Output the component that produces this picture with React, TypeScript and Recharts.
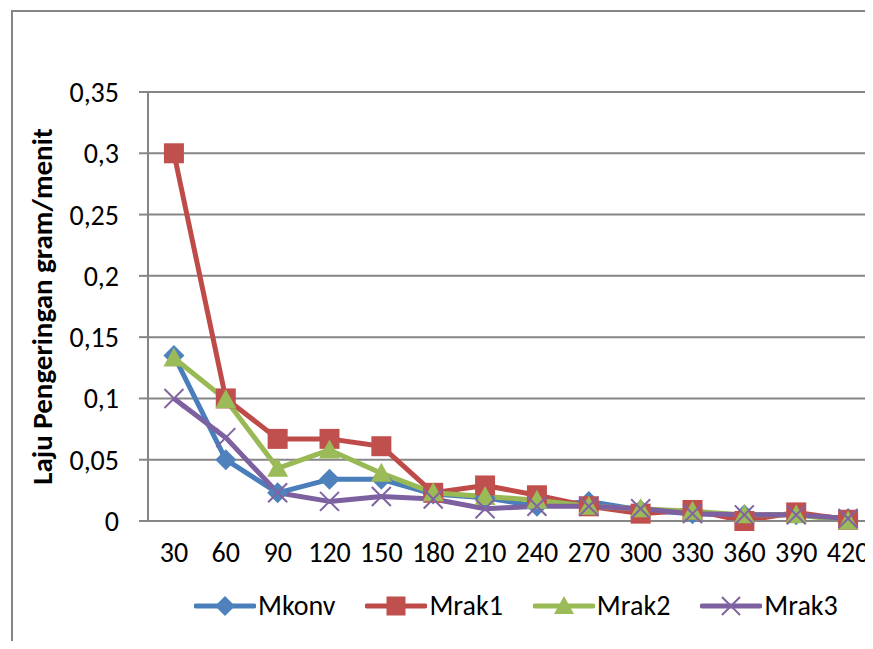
import React from 'react';
import { LineChart, Line, XAxis, YAxis, CartesianGrid, Legend } from 'recharts';

const categories = ['30', '60', '90', '120', '150', '180', '210', '240', '270', '300', '330', '360', '390', '420'];
const mkonv = [0.135, 0.05, 0.023, 0.034, 0.034, 0.022, 0.019, 0.012, 0.016, 0.009, 0.006, 0.005, 0.005, 0.002];
const mrak1 = [0.3, 0.1, 0.067, 0.067, 0.061, 0.023, 0.029, 0.021, 0.012, 0.006, 0.009, 0.0, 0.007, 0.001];
const mrak2 = [0.133, 0.099, 0.043, 0.058, 0.039, 0.023, 0.02, 0.017, 0.012, 0.01, 0.008, 0.005, 0.005, 0.0];
const mrak3 = [0.1, 0.068, 0.023, 0.016, 0.02, 0.018, 0.01, 0.012, 0.012, 0.01, 0.006, 0.005, 0.005, 0.002];
const yTicks = [0, 0.05, 0.1, 0.15, 0.2, 0.25, 0.3, 0.35];
const yTitle = 'Laju Pengeringan gram/menit';

const data = categories.map((c, i) => ({ x: c, Mkonv: mkonv[i], Mrak1: mrak1[i], Mrak2: mrak2[i], Mrak3: mrak3[i] }));

const FONT = 'Carlito, Calibri, Lato, sans-serif';
const FS = 28;
const GRAY = '#868686';
const COLORS = { Mkonv: '#4A7EBB', Mrak1: '#BE4B48', Mrak2: '#98B954', Mrak3: '#7D60A0' };
const FILLS = { Mkonv: '#4F81BD', Mrak1: '#C0504D', Mrak2: '#9BBB59', Mrak3: '#8064A2' };

const marker = (name: string, cx: number, cy: number, s = 1) => {
  if (cx == null || cy == null || isNaN(cx) || isNaN(cy)) return null;
  const r = 10.5 * s;
  if (name === 'Mkonv')
    return <path d={`M${cx},${cy - r}L${cx + r},${cy}L${cx},${cy + r}L${cx - r},${cy}Z`} fill={FILLS.Mkonv} />;
  if (name === 'Mrak1')
    return <rect x={cx - 10 * s} y={cy - 10 * s} width={20 * s} height={20 * s} fill={FILLS.Mrak1} />;
  if (name === 'Mrak2')
    return <path d={`M${cx},${cy - r}L${cx + r},${cy + 8.5 * s}L${cx - r},${cy + 8.5 * s}Z`} fill={FILLS.Mrak2} />;
  const q = 9.5 * s;
  return (
    <g stroke={FILLS.Mrak3} strokeWidth={2}>
      <line x1={cx - q} y1={cy - q} x2={cx + q} y2={cy + q} />
      <line x1={cx - q} y1={cy + q} x2={cx + q} y2={cy - q} />
    </g>
  );
};

const makeDot = (name: string) => (props: any) => (
  <g key={`${name}-${props.index}`}>{marker(name, props.cx, props.cy)}</g>
);

const LegendContent = (props: any) => {
  const payload = props.payload || [];
  return (
    <div style={{ display: 'flex', alignItems: 'center', fontFamily: FONT, fontSize: FS, color: '#000', whiteSpace: 'nowrap', lineHeight: '30px' }}>
      {payload.map((p: any) => (
        <div key={p.value} style={{ display: 'flex', alignItems: 'center', marginRight: 30 }}>
          <svg width={62} height={24} style={{ marginRight: 2 }}>
            <line x1={2} y1={12} x2={60} y2={12} stroke={COLORS[p.value as keyof typeof COLORS]} strokeWidth={5} strokeLinecap="round" />
            {marker(p.value, 31, 12, 0.95)}
          </svg>
          <span>{p.value}</span>
        </div>
      ))}
    </div>
  );
};

export default function App() {
  const series = ['Mkonv', 'Mrak1', 'Mrak2', 'Mrak3'] as const;
  return (
    <div style={{ position: 'relative', width: 873, height: 649, margin: -8, overflow: 'hidden', background: '#fff', fontFamily: FONT }}>
      <div style={{ position: 'absolute', left: 11, top: 10, width: 1000, height: 1000, border: `2px solid ${GRAY}`, boxSizing: 'border-box' }} />
      <div style={{ position: 'absolute', left: 0, top: 0 }}>
        <LineChart width={900} height={649} data={data} margin={{ top: 92, right: 26, bottom: 88, left: 0 }}>
          <CartesianGrid vertical={false} stroke={GRAY} strokeWidth={2} />
          <XAxis
            dataKey="x"
            scale="band"
            interval={0}
            tickLine={false}
            tickSize={0}
            tickMargin={21}
            height={40}
            axisLine={{ stroke: GRAY, strokeWidth: 2 }}
            tick={{ fontSize: FS, fill: '#000', fontFamily: FONT }}
          />
          <YAxis
            domain={[0, 0.35]}
            ticks={yTicks}
            interval={0}
            width={148}
            tickSize={9}
            tickMargin={20}
            tickFormatter={(v: number) => String(v).replace('.', ',')}
            axisLine={{ stroke: GRAY, strokeWidth: 2 }}
            tickLine={{ stroke: GRAY, strokeWidth: 2 }}
            tick={{ fontSize: FS, fill: '#000', fontFamily: FONT }}
            label={{ value: yTitle, angle: -90, position: 'center', dx: -32, dy: 0, style: { fontSize: 29, fontWeight: 'bold', fill: '#000', fontFamily: FONT } }}
          />
          <Legend
            layout="horizontal"
            verticalAlign="middle"
            align="center"
            wrapperStyle={{ top: 591, left: 194, width: 'auto' }}
            content={LegendContent}
          />
          {series.map((s) => (
            <Line
              key={s}
              type="linear"
              dataKey={s}
              stroke={COLORS[s]}
              strokeWidth={5}
              strokeLinejoin="round"
              dot={makeDot(s)}
              activeDot={false}
              isAnimationActive={false}
            />
          ))}
        </LineChart>
      </div>
    </div>
  );
}
